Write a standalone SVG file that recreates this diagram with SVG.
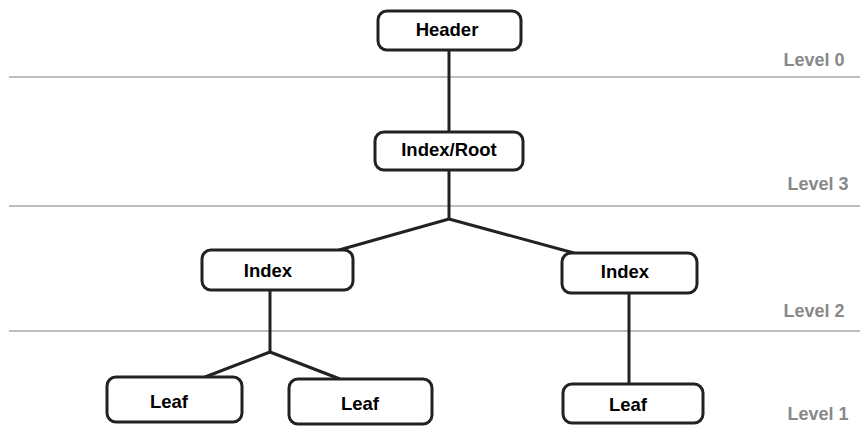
<svg xmlns="http://www.w3.org/2000/svg" width="860" height="427" viewBox="0 0 860 427">
  <style>
    .sep { stroke: #a8a8a8; stroke-width: 1.5; }
    .lvl { font-family: "Liberation Sans", Arial, sans-serif; font-weight: bold; font-size: 18px; fill: #888888; text-anchor: middle; }
    .box { fill: #ffffff; stroke: #222222; stroke-width: 3; }
    .lbl { font-family: "Liberation Sans", Arial, sans-serif; font-weight: bold; font-size: 18.5px; fill: #000000; text-anchor: middle; dominant-baseline: central; }
    .edge { stroke: #222222; stroke-width: 3; fill: none; }
  </style>
  <rect width="860" height="427" fill="#ffffff"/>

  <!-- level separators -->
  <g id="separators">
    <line class="sep" x1="9" y1="77" x2="860" y2="77"/>
    <line class="sep" x1="9" y1="206" x2="860" y2="206"/>
    <line class="sep" x1="9" y1="331" x2="860" y2="331"/>
  </g>
  <g id="level-labels">
    <text class="lvl" x="814" y="66">Level 0</text>
    <text class="lvl" x="818" y="190">Level 3</text>
    <text class="lvl" x="814" y="317">Level 2</text>
    <text class="lvl" x="818" y="420">Level 1</text>
  </g>

  <!-- connectors -->
  <g id="connectors">
    <line class="edge" x1="449" y1="50" x2="449" y2="132"/>
    <polyline class="edge" points="449,170 449,219"/>
    <line class="edge" x1="449" y1="219" x2="339" y2="250"/>
    <line class="edge" x1="449" y1="219" x2="574" y2="253"/>
    <polyline class="edge" points="270,290 270,352"/>
    <line class="edge" x1="270" y1="352" x2="205" y2="377"/>
    <line class="edge" x1="270" y1="352" x2="340" y2="379"/>
    <line class="edge" x1="629" y1="293" x2="629" y2="384"/>
  </g>

  <!-- nodes -->
  <g id="header">
    <rect class="box" x="378" y="11" width="143" height="39" rx="9"/>
    <text class="lbl" x="447" y="29">Header</text>
  </g>
  <g id="index-root">
    <rect class="box" x="375" y="132" width="148" height="38" rx="9"/>
    <text class="lbl" x="449" y="149">Index/Root</text>
  </g>
  <g id="index-left">
    <rect class="box" x="202" y="250" width="151" height="40" rx="9"/>
    <text class="lbl" x="268" y="270">Index</text>
  </g>
  <g id="index-right">
    <rect class="box" x="562" y="253" width="135" height="40" rx="9"/>
    <text class="lbl" x="625" y="271">Index</text>
  </g>
  <g id="leaf-1">
    <rect class="box" x="107" y="377" width="135" height="45" rx="9"/>
    <text class="lbl" x="169" y="401">Leaf</text>
  </g>
  <g id="leaf-2">
    <rect class="box" x="289" y="379" width="143" height="45" rx="9"/>
    <text class="lbl" x="360" y="403">Leaf</text>
  </g>
  <g id="leaf-3">
    <rect class="box" x="563" y="384" width="140" height="39" rx="9"/>
    <text class="lbl" x="628" y="404">Leaf</text>
  </g>
</svg>
